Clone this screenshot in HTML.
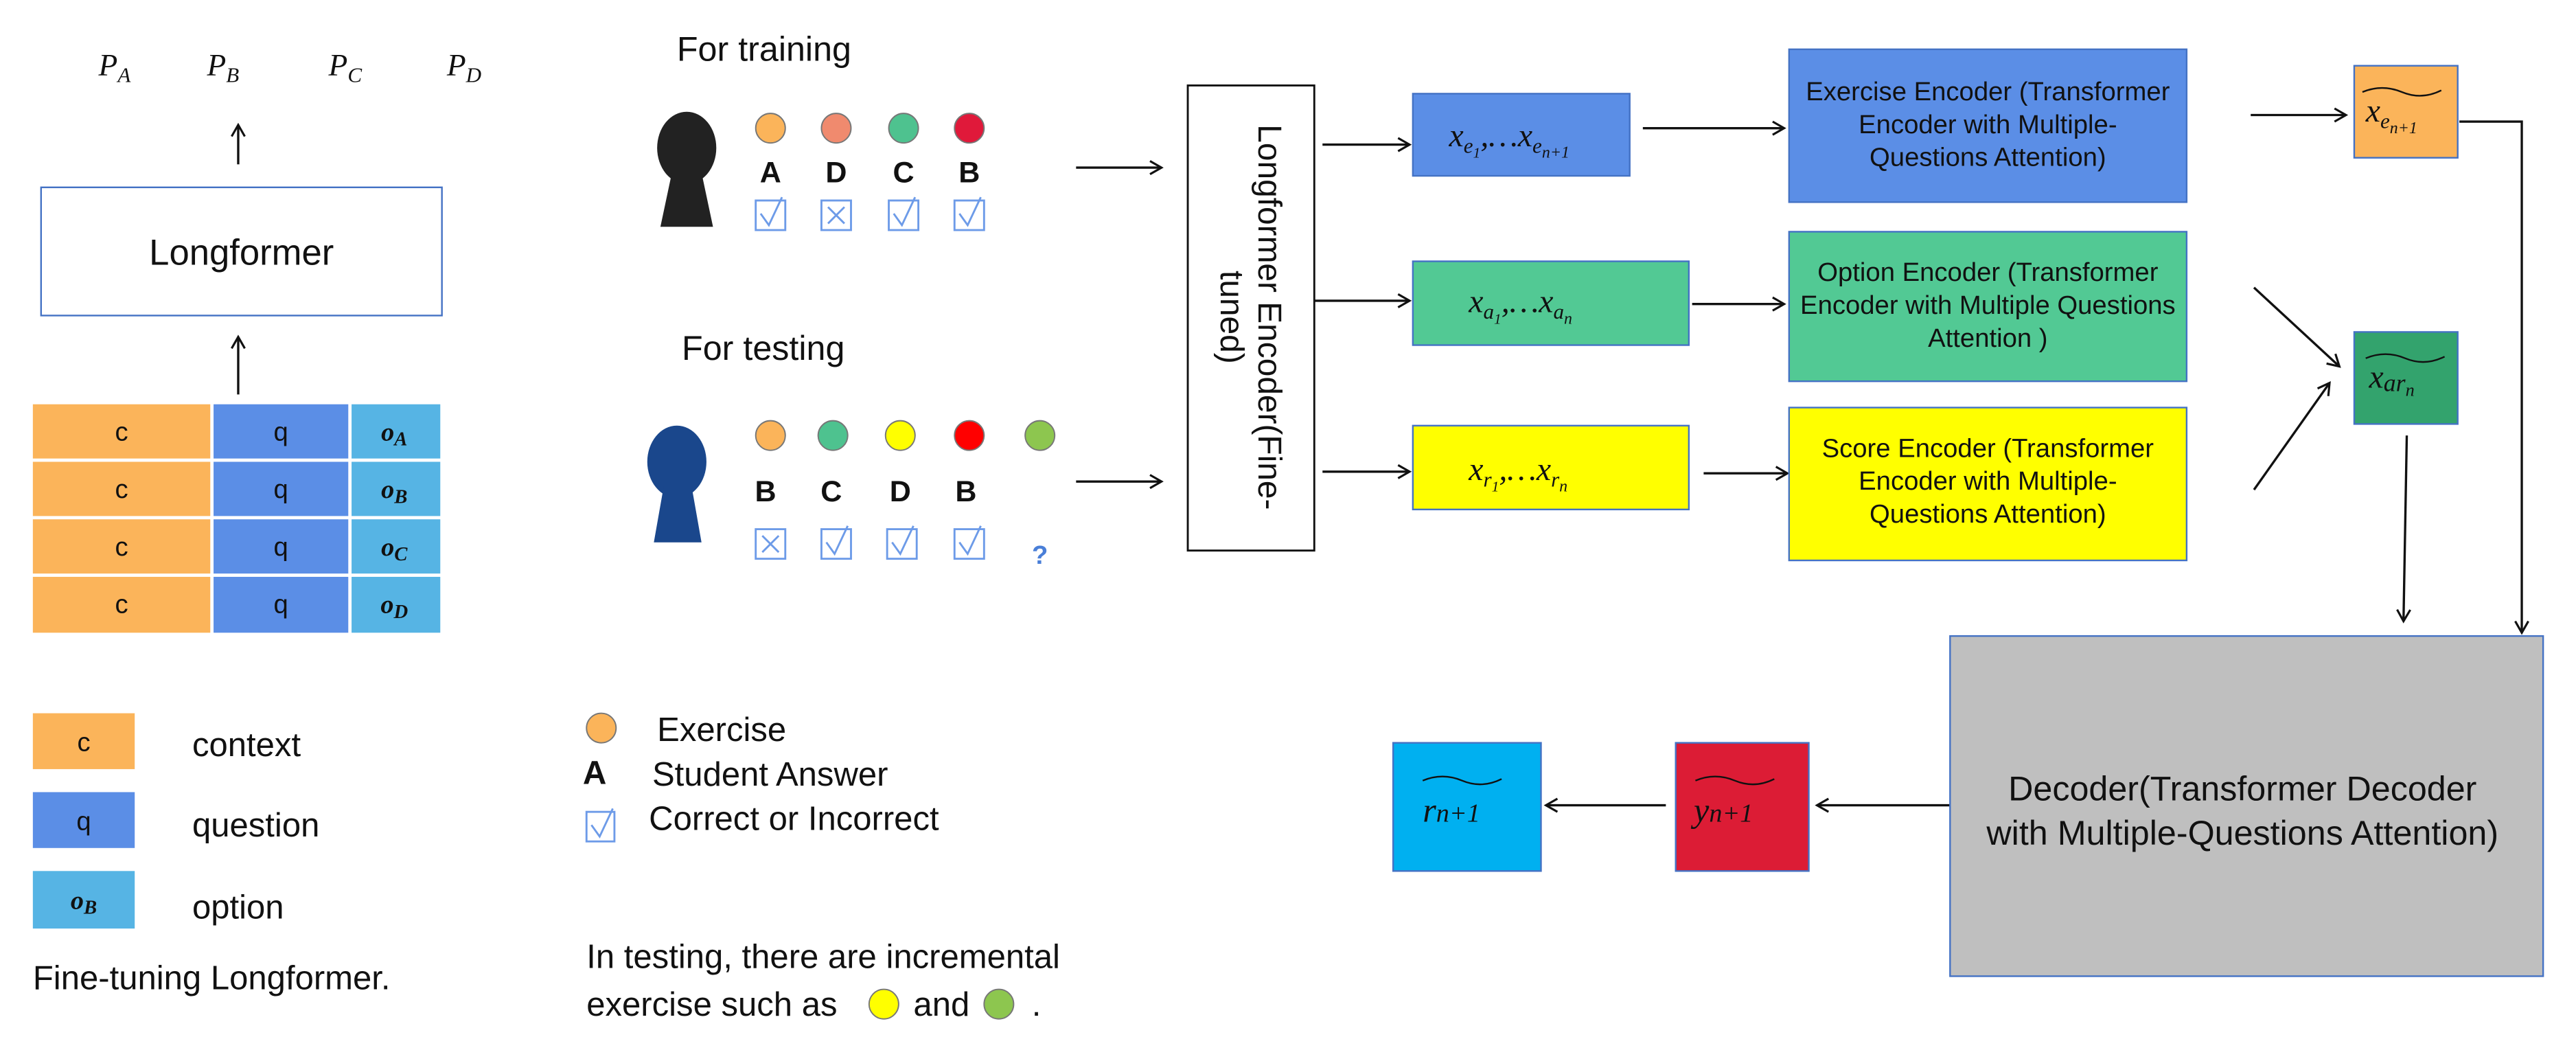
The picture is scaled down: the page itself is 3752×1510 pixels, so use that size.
<!DOCTYPE html>
<html><head><meta charset="utf-8"><style>
html,body{margin:0;padding:0;background:#fff;}
svg{display:block;}
text{font-family:"Liberation Sans",sans-serif;fill:#111;}
.m{font-family:"Liberation Serif",serif;font-style:italic;}
</style></head><body>
<svg width="3752" height="1510" viewBox="0 0 1568 631" preserveAspectRatio="none" xmlns="http://www.w3.org/2000/svg">
<defs>
<marker id="a" markerWidth="10" markerHeight="10" refX="8" refY="5" orient="auto" markerUnits="userSpaceOnUse">
<path d="M1,1 L8,5 L1,9" fill="none" stroke="#111" stroke-width="1.3"/></marker>
</defs>
<g stroke="#111" stroke-width="1.4" fill="none" marker-end="url(#a)">
<line x1="145" y1="100" x2="145" y2="76"/>
<line x1="145" y1="240" x2="145" y2="205"/>
<line x1="655" y1="102" x2="707" y2="102"/>
<line x1="655" y1="293" x2="707" y2="293"/>
<line x1="805" y1="88" x2="858" y2="88"/>
<line x1="800" y1="183" x2="858" y2="183"/>
<line x1="805" y1="287" x2="858" y2="287"/>
<line x1="1000" y1="78" x2="1086" y2="78"/>
<line x1="1030" y1="185" x2="1086" y2="185"/>
<line x1="1037" y1="288" x2="1088" y2="288"/>
<line x1="1370" y1="70" x2="1428" y2="70"/>
<line x1="1372" y1="175" x2="1424" y2="223"/>
<line x1="1372" y1="298" x2="1418" y2="233"/>
<line x1="1465" y1="265" x2="1463" y2="378"/>
<polyline points="1497,74 1535,74 1535,385"/>
<line x1="1187" y1="490" x2="1106" y2="490"/>
<line x1="1014" y1="490" x2="941" y2="490"/>
</g>
<!-- Left -->
<text class="m" x="60" y="46" font-size="19">P<tspan font-size="13" dy="4">A</tspan></text>
<text class="m" x="126" y="46" font-size="19">P<tspan font-size="13" dy="4">B</tspan></text>
<text class="m" x="200" y="46" font-size="19">P<tspan font-size="13" dy="4">C</tspan></text>
<text class="m" x="272" y="46" font-size="19">P<tspan font-size="13" dy="4">D</tspan></text>
<rect x="25" y="114" width="244" height="78" fill="#fff" stroke="#4472c4" stroke-width="1"/>
<text x="147" y="161" font-size="22" text-anchor="middle">Longformer</text>
<g font-size="16" text-anchor="middle">
<g fill="#fbb45a"><rect x="20" y="246" width="108" height="33"/><rect x="20" y="281" width="108" height="33"/><rect x="20" y="316" width="108" height="33"/><rect x="20" y="351" width="108" height="34"/></g>
<g fill="#5b8ee6"><rect x="130" y="246" width="82" height="33"/><rect x="130" y="281" width="82" height="33"/><rect x="130" y="316" width="82" height="33"/><rect x="130" y="351" width="82" height="34"/></g>
<g fill="#56b4e4"><rect x="214" y="246" width="54" height="33"/><rect x="214" y="281" width="54" height="33"/><rect x="214" y="316" width="54" height="33"/><rect x="214" y="351" width="54" height="34"/></g>
<text x="74" y="268">c</text><text x="74" y="303">c</text><text x="74" y="338">c</text><text x="74" y="373">c</text>
<text x="171" y="268">q</text><text x="171" y="303">q</text><text x="171" y="338">q</text><text x="171" y="373">q</text>
<text class="m" x="240" y="268" font-weight="bold">o<tspan font-size="12" dy="3">A</tspan></text>
<text class="m" x="240" y="303" font-weight="bold">o<tspan font-size="12" dy="3">B</tspan></text>
<text class="m" x="240" y="338" font-weight="bold">o<tspan font-size="12" dy="3">C</tspan></text>
<text class="m" x="240" y="373" font-weight="bold">o<tspan font-size="12" dy="3">D</tspan></text>
<rect x="20" y="434" width="62" height="34" fill="#fbb45a"/><text x="51" y="457">c</text>
<rect x="20" y="482" width="62" height="34" fill="#5b8ee6"/><text x="51" y="505">q</text>
<rect x="20" y="530" width="62" height="35" fill="#56b4e4"/><text class="m" x="51" y="553" font-weight="bold">o<tspan font-size="12" dy="3">B</tspan></text>
</g>
<g font-size="20.5">
<text x="117" y="460">context</text>
<text x="117" y="509">question</text>
<text x="117" y="559">option</text>
<text x="20" y="602">Fine-tuning Longformer.</text>
</g>
<!-- Middle -->
<text x="412" y="37" font-size="21">For training</text>
<text x="415" y="219" font-size="21">For testing</text>
<g fill="#222"><ellipse cx="418" cy="90" rx="18" ry="22"/><path d="M409,105 L427,105 L434,138 L402,138 Z"/></g>
<g fill="#1a478c"><ellipse cx="412" cy="281" rx="18" ry="22"/><path d="M404,296 L421,296 L427,330 L398,330 Z"/></g>
<g stroke="#777" stroke-width="0.8">
<circle cx="469" cy="78" r="9" fill="#fbb45a"/><circle cx="509" cy="78" r="9" fill="#f08a6e"/><circle cx="550" cy="78" r="9" fill="#4ec28f"/><circle cx="590" cy="78" r="9" fill="#e0193a"/>
<circle cx="469" cy="265" r="9" fill="#fbb45a"/><circle cx="507" cy="265" r="9" fill="#4ec28f"/><circle cx="548" cy="265" r="9" fill="#ffff00"/><circle cx="590" cy="265" r="9" fill="#ff0000"/><circle cx="633" cy="265" r="9" fill="#8dc64f"/>
<circle cx="366" cy="443" r="9" fill="#fbb45a"/>
<circle cx="538" cy="611" r="9" fill="#ffff00"/><circle cx="608" cy="611" r="9" fill="#8dc64f"/>
</g>
<g font-size="18" font-weight="bold" text-anchor="middle">
<text x="469" y="111">A</text><text x="509" y="111">D</text><text x="550" y="111">C</text><text x="590" y="111">B</text>
<text x="466" y="305">B</text><text x="506" y="305">C</text><text x="548" y="305">D</text><text x="588" y="305">B</text>
<text x="362" y="477" font-size="20">A</text>
<text x="633" y="343" style="fill:#4a7fd8" font-size="16">?</text>
</g>
<g fill="none" stroke="#6d9be8" stroke-width="1.2">
<rect x="460" y="122" width="18" height="18"/><rect x="500" y="122" width="18" height="18"/><rect x="541" y="122" width="18" height="18"/><rect x="581" y="122" width="18" height="18"/>
<rect x="460" y="322" width="18" height="18"/><rect x="500" y="322" width="18" height="18"/><rect x="540" y="322" width="18" height="18"/><rect x="581" y="322" width="18" height="18"/>
<rect x="357" y="494" width="17" height="18"/>
<path d="M463,130 L468,137 L476,120"/><path d="M544,130 L549,137 L557,120"/><path d="M584,130 L589,137 L597,120"/>
<path d="M503,330 L508,337 L516,320"/><path d="M543,330 L548,337 L556,320"/><path d="M584,330 L589,337 L597,320"/>
<path d="M360,502 L365,509 L373,492"/>
<path d="M504,126 L514,136 M514,126 L504,136"/><path d="M464,326 L474,336 M474,326 L464,336"/>
</g>
<g font-size="20.5">
<text x="400" y="451">Exercise</text>
<text x="397" y="478">Student Answer</text>
<text x="395" y="505">Correct or Incorrect</text>
<text x="357" y="589">In testing, there are incremental</text>
<text x="357" y="618">exercise such as</text><text x="556" y="618">and</text><text x="628" y="618">.</text>
</g>
<!-- Longformer encoder -->
<rect x="723" y="52" width="77" height="283" fill="#fff" stroke="#111" stroke-width="1.2"/>
<g transform="translate(761,193) rotate(90)" font-size="20" text-anchor="middle">
<text x="0" y="-5">Longformer Encoder(Fine-</text>
<text x="0" y="18">tuned)</text>
</g>
<!-- Right -->
<g stroke="#4472c4" stroke-width="1">
<rect x="860" y="57" width="132" height="50" fill="#5b8ee6"/>
<rect x="860" y="159" width="168" height="51" fill="#52c994"/>
<rect x="860" y="259" width="168" height="51" fill="#ffff00"/>
<rect x="1089" y="30" width="242" height="93" fill="#5b8ee6"/>
<rect x="1089" y="141" width="242" height="91" fill="#52c994"/>
<rect x="1089" y="248" width="242" height="93" fill="#ffff00"/>
<rect x="1433" y="40" width="63" height="56" fill="#fbb45a"/>
<rect x="1433" y="202" width="63" height="56" fill="#33a36d"/>
<rect x="1187" y="387" width="361" height="207" fill="#bfbfbf"/>
<rect x="1020" y="452" width="81" height="78" fill="#dc1c35"/>
<rect x="848" y="452" width="90" height="78" fill="#00b0f0"/>
</g>
<text class="m" x="882" y="89" font-size="20">x<tspan font-size="13" dy="4">e</tspan><tspan font-size="9" dy="3">1</tspan><tspan dy="-7">,…x</tspan><tspan font-size="13" dy="4">e</tspan><tspan font-size="10" dy="3">n+1</tspan></text>
<text class="m" x="894" y="190" font-size="20">x<tspan font-size="13" dy="4">a</tspan><tspan font-size="9" dy="3">1</tspan><tspan dy="-7">,…x</tspan><tspan font-size="13" dy="4">a</tspan><tspan font-size="10" dy="3">n</tspan></text>
<text class="m" x="894" y="292" font-size="20">x<tspan font-size="13" dy="4">r</tspan><tspan font-size="9" dy="3">1</tspan><tspan dy="-7">,…x</tspan><tspan font-size="13" dy="4">r</tspan><tspan font-size="10" dy="3">n</tspan></text>
<text class="m" x="1440" y="74" font-size="20">x<tspan font-size="13" dy="4">e</tspan><tspan font-size="10" dy="3">n+1</tspan></text>
<text class="m" x="1442" y="236" font-size="20">x<tspan font-size="15" dy="2">ar</tspan><tspan font-size="11" dy="3">n</tspan></text>
<text class="m" x="1031" y="500" font-size="21">y<tspan font-size="16">n+1</tspan></text>
<text class="m" x="866" y="500" font-size="21">r<tspan font-size="16">n+1</tspan></text>
<g fill="none" stroke="#111" stroke-width="1">
<path d="M1438,56 q12,-5 24,0 t24,-1"/><path d="M1440,218 q12,-5 24,0 t24,-1"/>
<path d="M1032,475 q12,-5 24,0 t24,-1"/><path d="M866,475 q12,-5 24,0 t24,-1"/>
</g>
<g font-size="16" text-anchor="middle">
<text x="1210" y="61">Exercise Encoder (Transformer</text>
<text x="1210" y="81">Encoder with Multiple-</text>
<text x="1210" y="101">Questions Attention)</text>
<text x="1210" y="171">Option Encoder (Transformer</text>
<text x="1210" y="191">Encoder with Multiple Questions</text>
<text x="1210" y="211">Attention )</text>
<text x="1210" y="278">Score Encoder (Transformer</text>
<text x="1210" y="298">Encoder with Multiple-</text>
<text x="1210" y="318">Questions Attention)</text>
<text x="1365" y="487" font-size="21">Decoder(Transformer Decoder</text>
<text x="1365" y="514" font-size="21">with Multiple-Questions Attention)</text>
</g>
</svg>
</body></html>
